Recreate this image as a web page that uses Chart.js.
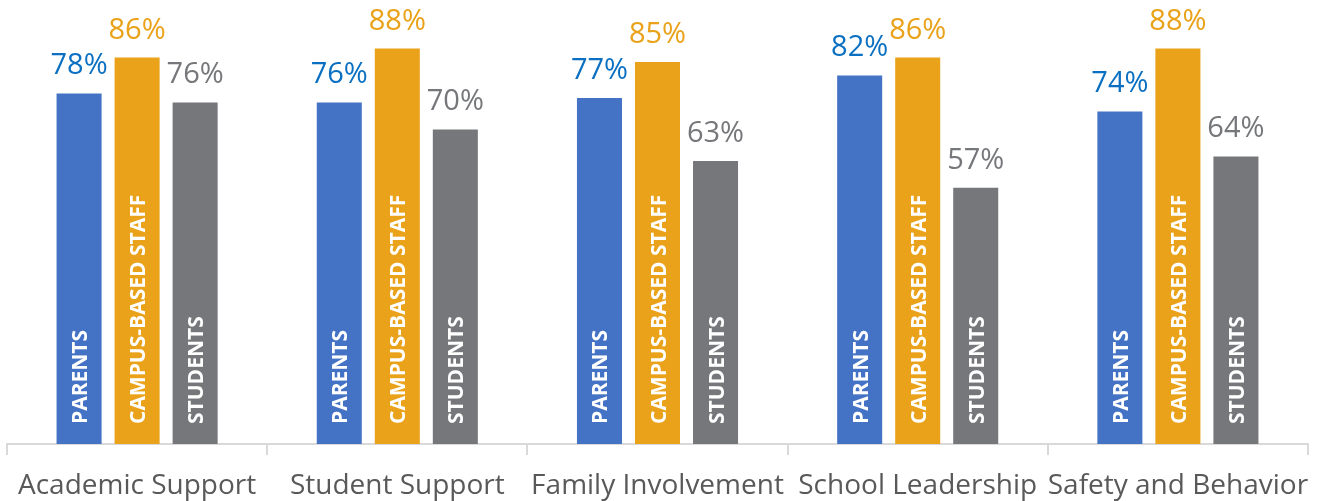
<!DOCTYPE html>
<html>
<head>
<meta charset="utf-8">
<script src="https://cdn.jsdelivr.net/npm/chart.js@4/dist/chart.umd.min.js"></script>
<style>
  html, body { margin: 0; padding: 0; background: #fff; }
  #wrap { width: 1325px; height: 501px; }
</style>
</head>
<body>
<div id="wrap"><canvas id="c" width="1325" height="501"></canvas></div>
<script>
// categories and series values (percent)
const categories = ["Academic Support", "Student Support", "Family Involvement", "School Leadership", "Safety and Behavior"];
const seriesNames = ["PARENTS", "CAMPUS-BASED STAFF", "STUDENTS"];
const parents = [78, 76, 77, 82, 74];
const staff = [86, 88, 85, 86, 88];
const students = [76, 70, 63, 57, 64];

const barColors = ["#4472C4", "#E9A219", "#76777B"];
const labelColors = ["#0B70C1", "#E9A219", "#76777B"];
const FONT = "'Open Sans', 'DejaVu Sans', sans-serif";

// value labels above bars + rotated series names inside bars
const barLabels = {
  id: "barLabels",
  afterDatasetsDraw(chart) {
    const ctx = chart.ctx;
    const base = chart.scales.y.getPixelForValue(0);
    chart.data.datasets.forEach((ds, i) => {
      const meta = chart.getDatasetMeta(i);
      meta.data.forEach((bar, j) => {
        ctx.save();
        ctx.fillStyle = labelColors[i];
        ctx.font = "29px " + FONT;
        ctx.textAlign = "center";
        ctx.textBaseline = "alphabetic";
        ctx.fillText(ds.data[j] + "%", bar.x, bar.y - 19);
        ctx.restore();

        ctx.save();
        ctx.translate(bar.x + 8, base - 20);
        ctx.rotate(-Math.PI / 2);
        ctx.fillStyle = "#ffffff";
        ctx.font = "bold 21px " + FONT;
        ctx.textAlign = "left";
        ctx.textBaseline = "alphabetic";
        ctx.fillText(seriesNames[i], 0, 0);
        ctx.restore();
      });
    });
  }
};

const makeSet = (data, i) => ({
  label: seriesNames[i],
  data: data,
  backgroundColor: barColors[i],
  borderWidth: 0,
  barPercentage: 0.776,
  categoryPercentage: 0.669
});

new Chart(document.getElementById("c"), {
  type: "bar",
  data: {
    labels: categories,
    datasets: [makeSet(parents, 0), makeSet(staff, 1), makeSet(students, 2)]
  },
  options: {
    responsive: false,
    animation: false,
    layout: { padding: { left: 7, right: 17, top: 0, bottom: 0 } },
    plugins: {
      legend: { display: false },
      tooltip: { enabled: false }
    },
    scales: {
      x: {
        grid: {
          display: true,
          drawOnChartArea: false,
          drawTicks: true,
          tickLength: 11,
          color: "#D9D9D9",
          lineWidth: 2
        },
        border: { display: true, color: "#D9D9D9", width: 2 },
        ticks: {
          color: "#595959",
          font: { family: FONT, size: 28 },
          padding: 14,
          maxRotation: 0,
          autoSkip: false
        },
        afterFit(scale) { scale.height = 57; }
      },
      y: {
        display: false,
        min: 0,
        max: 98.8
      }
    }
  },
  plugins: [barLabels]
});
</script>
</body>
</html>
